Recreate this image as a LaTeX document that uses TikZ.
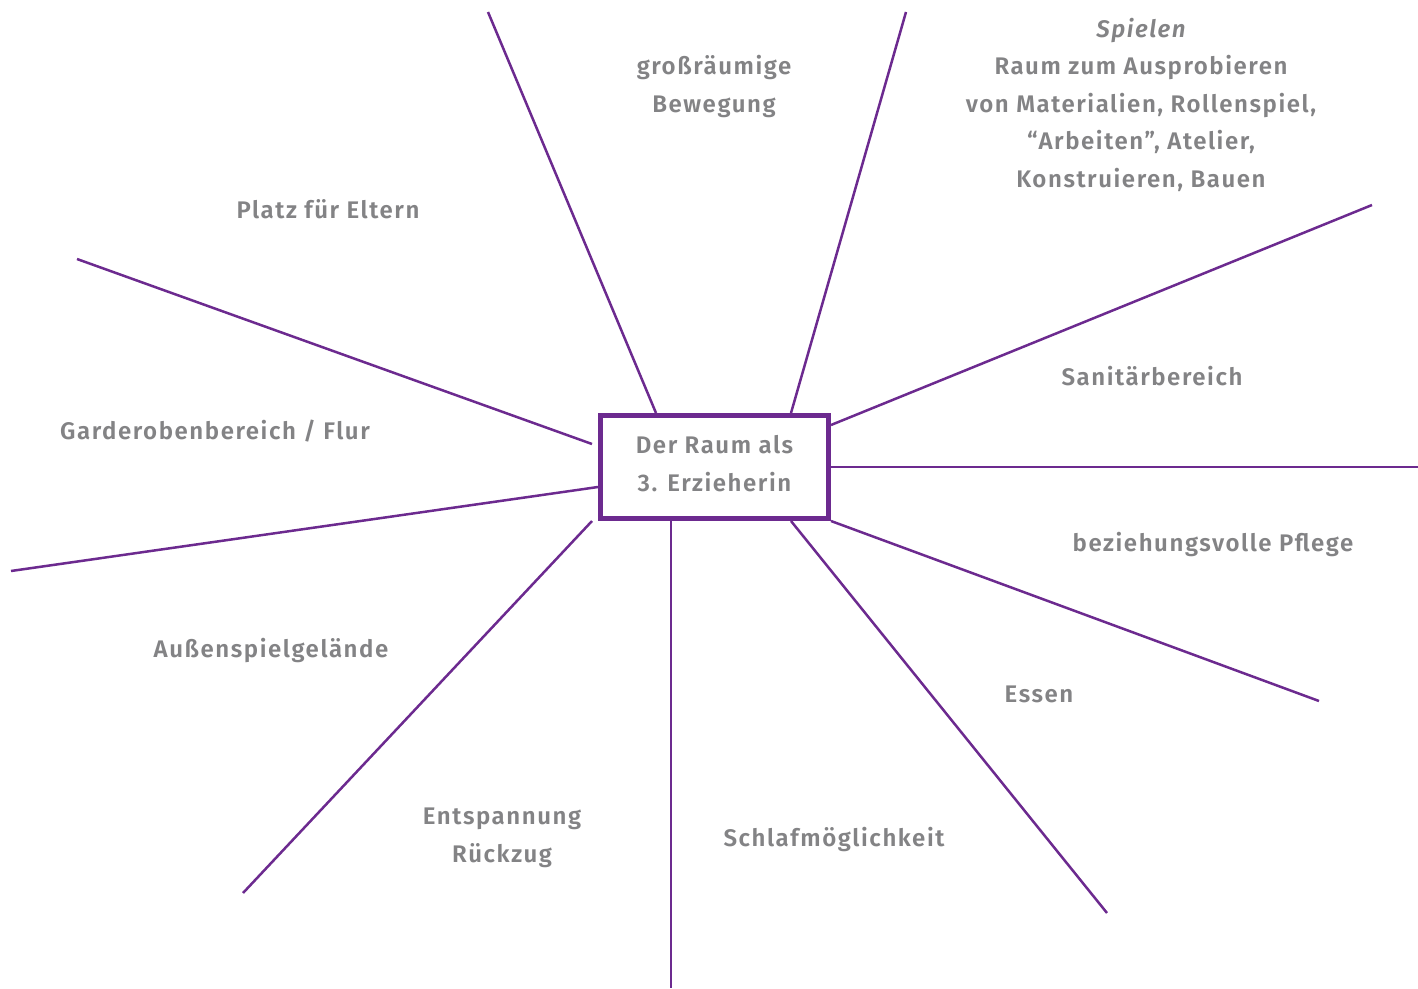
\documentclass[tikz,border=0pt]{standalone}
\usepackage{fontspec}
\setmainfont{Fira Sans}[UprightFont={* SemiBold}, ItalicFont={* SemiBold Italic}, LetterSpace=6.5]
\definecolor{lila}{HTML}{6C2A8F}
\definecolor{grau}{HTML}{838385}

\begin{document}
\begin{tikzpicture}[
      x=1pt, y=-1pt,
      box/.style={draw=lila, line width=5pt, minimum width=228pt, minimum height=103pt},
      label/.style={anchor=base, align=center},
      ray/.style={draw=lila, line width=2.5pt},
      every node/.style={text=grau, font=\fontsize{24}{37.5}\selectfont},
    ]
      \useasboundingbox (0, 0) rectangle (1418, 988);
      \node[box] (center) at (714.5, 467) {};
      \node[label] (title) at (714.5, 491) {Der Raum als\\3. Erzieherin};
      \coordinate (e1) at (488, 12);
      \coordinate (e2) at (906, 12);
      \coordinate (e3) at (1372, 205);
      \coordinate (e4) at (1418, 467);
      \coordinate (e5) at (1319, 701);
      \coordinate (e6) at (1107, 913);
      \coordinate (e7) at (671, 988);
      \coordinate (e8) at (243, 893);
      \coordinate (e9) at (11, 571);
      \coordinate (e10) at (77, 259);
      \node[label] (bewegung) at (714, 112) {großräumige\\Bewegung};
      \node[label] (spielen) at (1141, 187) {\itshape Spielen\\Raum zum Ausprobieren\\von Materialien, Rollenspiel,\\“Arbeiten”, Atelier,\\Konstruieren, Bauen};
      \node[label] (eltern) at (328, 218) {Platz für Eltern};
      \node[label] (garderobe) at (215, 439) {Garderobenbereich / Flur};
      \node[label] (aussen) at (271, 657) {Außenspielgelände};
      \node[label] (rueckzug) at (502, 862) {Entspannung\\Rückzug};
      \node[label] (schlaf) at (834, 846) {Schlafmöglichkeit};
      \node[label] (essen) at (1039, 702) {Essen};
      \node[label] (pflege) at (1213, 551) {beziehungsvolle Pflege};
      \node[label] (sanitaer) at (1152, 385) {Sanitärbereich};
      \draw[ray] ([xshift=-58.5pt]center.north) -- (e1);
      \draw[ray] ([xshift=76.5pt]center.north) -- (e2);
      \draw[ray] ([yshift=42pt]center.east) -- (e3);
      \draw[ray] (center.east) -- (e4);
      \draw[ray] (center.south east) -- (e5);
      \draw[ray] ([xshift=76.5pt]center.south) -- (e6);
      \draw[ray] ([xshift=-43.5pt]center.south) -- (e7);
      \draw[ray] ([xshift=-6pt]center.south west) -- (e8);
      \draw[ray] ([yshift=-20pt]center.west) -- (e9);
      \draw[ray] ([xshift=-6pt, yshift=23pt]center.west) -- (e10);
    \end{tikzpicture}
\end{document}
